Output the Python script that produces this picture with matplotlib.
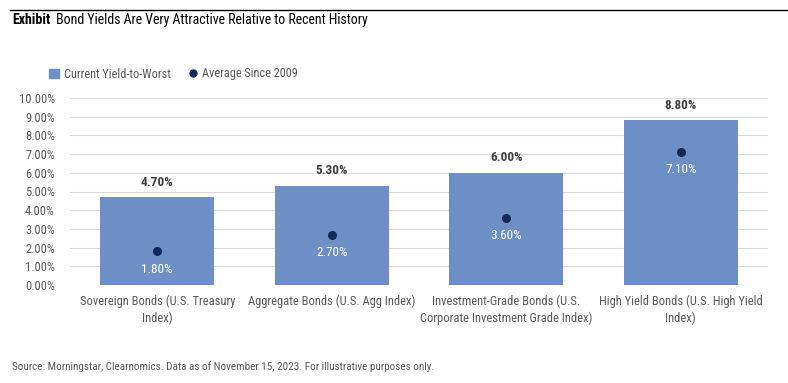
import matplotlib.pyplot as plt
from matplotlib import font_manager
from matplotlib.lines import Line2D
from matplotlib.patches import Patch

# condensed font to look like the original, Roboto if it is missing
names = {f.name for f in font_manager.fontManager.ttflist}
font = 'Roboto Condensed' if 'Roboto Condensed' in names else 'Roboto'
plt.rcParams['font.family'] = [font, 'DejaVu Sans']

categories = ['Sovereign Bonds (U.S. Treasury\nIndex)',
              'Aggregate Bonds (U.S. Agg Index)',
              'Investment-Grade Bonds (U.S.\nCorporate Investment Grade Index)',
              'High Yield Bonds (U.S. High Yield\nIndex)']
current_ytw = [4.70, 5.30, 6.00, 8.80]
avg_since_2009 = [1.80, 2.70, 3.60, 7.10]
yticks = [0, 1, 2, 3, 4, 5, 6, 7, 8, 9, 10]

bar_color = '#6E8FC6'
dot_color = '#14285A'
grey = '#595959'

fig = plt.figure(figsize=(7.88, 3.83), dpi=100)
ax = fig.add_axes([70 / 788, 98 / 383, 698 / 788, 187 / 383])

x = range(len(categories))
ax.bar(x, current_ytw, width=0.655, color=bar_color, zorder=2)
ax.scatter(x, avg_since_2009, s=30, color=dot_color, zorder=3)

for i, v in enumerate(current_ytw):
    ax.text(i, v + 0.45, f'{v:.2f}%', ha='center', va='bottom',
            fontsize=9.5, fontweight='bold', color='#404040')
for i, v in enumerate(avg_since_2009):
    ax.text(i, v - 0.6, f'{v:.2f}%', ha='center', va='top',
            fontsize=9.5, color='white')

ax.set_xlim(-0.5, len(categories) - 0.5)
ax.set_ylim(0, 10)
ax.set_yticks(yticks)
ax.set_yticklabels([f'{t:.2f}%' for t in yticks])
ax.set_xticks(list(x))
ax.set_xticklabels(categories, fontsize=9, color=grey, linespacing=1.3)
ax.tick_params(axis='y', labelsize=9, labelcolor=grey, length=0, pad=11)
ax.tick_params(axis='x', length=0, pad=7)
ax.grid(axis='y', color='#D9D9D9', linewidth=0.8, zorder=0)
for s in ax.spines.values():
    s.set_visible(False)

handles = [Patch(color=bar_color, label='Current Yield-to-Worst'),
           Line2D([], [], marker='o', linestyle='', color=dot_color,
                  markersize=5, label='Average Since 2009')]
fig.legend(handles=handles, loc='center left', bbox_to_anchor=(38 / 788, 1 - 74 / 383),
           ncol=2, frameon=False, fontsize=8.8, handlelength=0.8, handletextpad=0.4,
           columnspacing=1.4, labelcolor=grey)

# header line and title
fig.add_artist(Line2D([10 / 788, 1], [1 - 10 / 383, 1 - 10 / 383], color='black', linewidth=1))
fig.text(12 / 788, 1 - 20 / 383, 'Exhibit', fontsize=10, fontweight='bold', va='center')
fig.text(56 / 788, 1 - 20 / 383, 'Bond Yields Are Very Attractive Relative to Recent History',
         fontsize=10, va='center')

fig.text(12 / 788, 1 - 367 / 383,
         'Source: Morningstar, Clearnomics. Data as of November 15, 2023. For illustrative purposes only.',
         fontsize=8, color=grey, va='center')

fig.savefig('out.png', dpi=100)
